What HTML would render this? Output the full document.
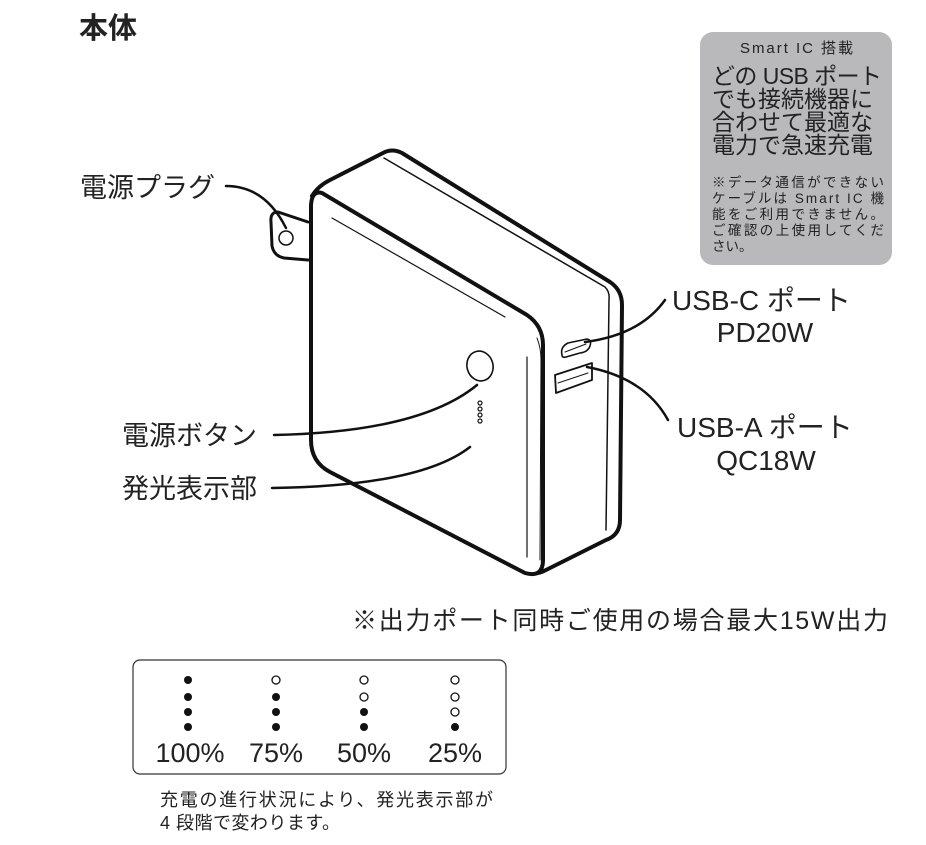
<!DOCTYPE html>
<html><head><meta charset="utf-8"><style>
html,body{margin:0;padding:0;background:#fff}
svg{display:block}
text{font-family:"Liberation Sans","Noto Sans CJK JP",sans-serif;fill:#222}
</style></head><body>
<svg width="926" height="845" viewBox="0 0 926 845" xmlns="http://www.w3.org/2000/svg">
<text x="79" y="38" font-size="29" font-weight="bold" fill="#111">本体</text>
<rect x="700" y="32" width="192" height="233" rx="13" fill="#b9b9bb"/>
<text x="740" y="53" font-size="15" textLength="113" fill="#333">Smart IC 搭載</text>
<g font-size="23" fill="#333"><text x="712" y="84" textLength="170">どの USB ポート</text><text x="712" y="107">でも接続機器に</text><text x="712" y="130">合わせて最適な</text><text x="712" y="153">電力で急速充電</text></g>
<g font-size="13.5" fill="#333"><text x="712" y="187" textLength="172">※データ通信ができない</text><text x="712" y="203" textLength="172">ケーブルは Smart IC 機</text><text x="712" y="219" textLength="172">能をご利用できません。</text><text x="712" y="235" textLength="172">ご確認の上使用してくだ</text><text x="712" y="251">さい。</text></g>

<g fill="none" stroke="#111" stroke-linejoin="round" stroke-linecap="round">
<path d="M308 222 L278 212 Q270 212 271 222 L272 246 Q274 256 284 258 L308 260" stroke-width="3" fill="#fff"/>
<circle cx="286" cy="238" r="7" stroke-width="1.5"/>
<path d="M312 196 Q318 186 330 180 L383 153 Q392 148 402 153 L610 282 Q622 290 622 305 L620 520 Q620 535 606 540 L546 570 Q535 576 525 572" stroke-width="4" fill="#fff"/>
<path d="M384 158 L605 287 Q610 292 609 300 L606 530" stroke-width="1.5"/>
<path d="M322 193 L527 315 Q543 326 543 345 L543 560 Q543 578 525 573 L330 472 Q311 462 311 440 L311 205 Q312 190 322 193 Z" stroke-width="4" fill="#fff"/>
<path d="M332 218 L505 317" stroke-width="1.2"/>
<path d="M527 357 L527 557" stroke-width="1.2"/>
<path d="M537 338 Q541 348 541 360 L540 560" stroke-width="1"/>
<ellipse cx="480" cy="366" rx="13" ry="15" stroke-width="1.6" transform="rotate(-15 480 366)"/>
<g stroke-width="1.2"><circle cx="480" cy="403" r="2"/><circle cx="480" cy="409" r="2"/><circle cx="480" cy="415" r="2"/><circle cx="480" cy="421" r="2"/></g>
<path d="M562 355 Q560 347 568 343 L587 339 Q592 340 590 346 Q588 352 580 353 L566 357 Q562 358 562 355 Z" stroke-width="1.6"/>
<path d="M565 352 L586 344" stroke-width="1"/>
<path d="M555 375 L592 363 L592 380 L556 393 Z" stroke-width="1.8"/>
<path d="M558 383 L588 373" stroke-width="1"/>
<path d="M226 186 Q265 186 286 228" stroke-width="2.5"/>
<path d="M585 342 Q640 335 665 300" stroke-width="2.5"/>
<path d="M587 367 Q645 378 668 420" stroke-width="2.5"/>
<path d="M274 435 Q420 432 477 385" stroke-width="2.5"/>
<path d="M272 488 Q420 486 470 447" stroke-width="2.5"/>
</g>

<g font-size="27"><text x="80" y="197">電源プラグ</text>
<text x="122" y="445">電源ボタン</text><text x="122" y="498">発光表示部</text></g>
<g font-size="28"><text x="672" y="310">USB-C ポート</text><text x="765" y="342" text-anchor="middle">PD20W</text>
<text x="677" y="437">USB-A ポート</text><text x="766" y="470" text-anchor="middle">QC18W</text></g>
<text x="352" y="629" font-size="25" textLength="536">※出力ポート同時ご使用の場合最大15W出力</text>

<rect x="133" y="660" width="373" height="114" rx="7" fill="none" stroke="#333" stroke-width="1.2"/>
<g fill="#111"><circle cx="188" cy="680" r="4"/><circle cx="188" cy="697" r="4"/><circle cx="188" cy="712" r="4"/><circle cx="188" cy="727" r="4"/>
<circle cx="276" cy="697" r="4"/><circle cx="276" cy="712" r="4"/><circle cx="276" cy="727" r="4"/>
<circle cx="364" cy="712" r="4"/><circle cx="364" cy="727" r="4"/><circle cx="455" cy="727" r="4"/></g>
<g fill="none" stroke="#111" stroke-width="1.3"><circle cx="276" cy="680" r="4"/><circle cx="364" cy="680" r="4"/><circle cx="364" cy="697" r="4"/>
<circle cx="455" cy="680" r="4"/><circle cx="455" cy="697" r="4"/><circle cx="455" cy="712" r="4"/></g>
<g font-size="27" text-anchor="middle"><text x="190" y="762">100%</text><text x="276" y="762">75%</text><text x="364" y="762">50%</text><text x="455" y="762">25%</text></g>
<g font-size="18"><text x="160" y="806" textLength="333">充電の進行状況により、発光表示部が</text><text x="160" y="829" textLength="180">4 段階で変わります。</text></g>
</svg>
</body></html>
